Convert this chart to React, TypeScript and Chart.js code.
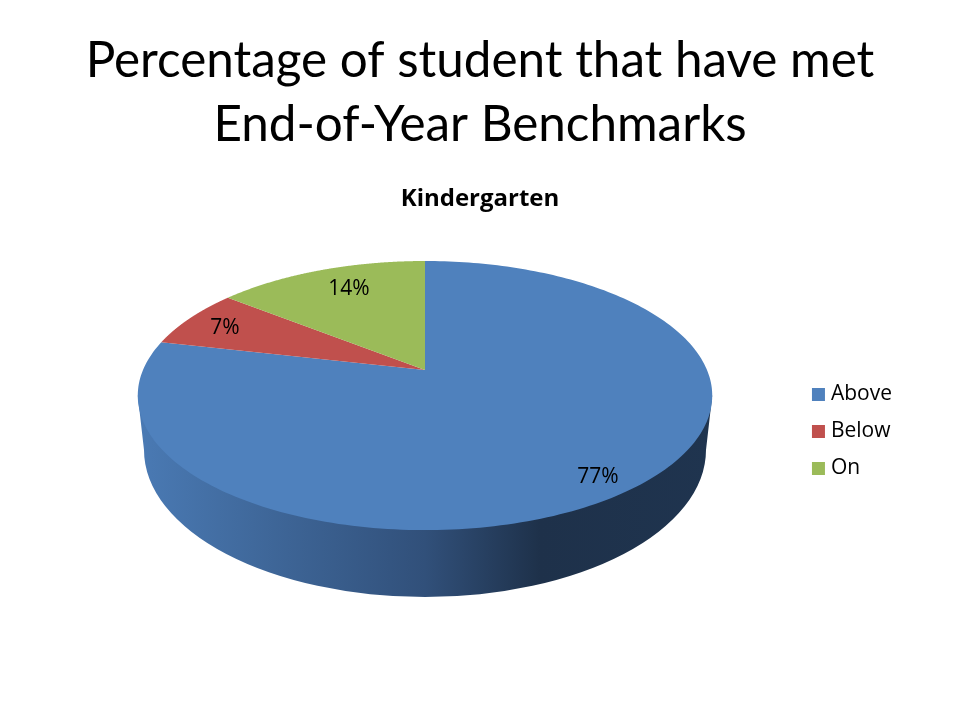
import React, { useEffect, useRef } from "react";
import { Chart, registerables } from "chart.js";

Chart.register(...registerables);

const slideTitle = ["Percentage of student that have met", "End-of-Year Benchmarks"];
const chartTitle = "Kindergarten";
const categories = ["Above", "Below", "On"];
const values = [77, 7, 14];
const valueLabels = ["77%", "7%", "14%"];
const colors = ["#4F81BD", "#C0504D", "#9BBB59"];

// Perspective of the tilted disc (style only)
const VIEW = { cx: 425, cy: 370, kx: 282, ky: 129.7, c: -0.19 };
const WALL = { cy: 450, rx: 281, ry: 147 };
const LABEL_POS = [
  { f: 0.858, dy: 7 },
  { f: 0.842, dy: 2 },
  { f: 0.695, dy: -8 },
];

function project(angle: number, f: number) {
  const u = Math.cos(angle) * f;
  const v = Math.sin(angle) * f;
  const w = 1 + VIEW.c * v;
  return { x: VIEW.cx + (VIEW.kx * u) / w, y: VIEW.cy + (VIEW.ky * v) / w };
}

const pie3d = {
  id: "pie3d",
  beforeDatasetsDraw(chart: any) {
    const { ctx } = chart;
    const arcs = chart.getDatasetMeta(0).data;
    ctx.save();

    // side wall
    const top = VIEW.cy + (VIEW.ky * 0.19) / (1 - 0.19 * 0.19);
    const left = VIEW.cx - VIEW.kx / Math.sqrt(1 - VIEW.c * VIEW.c);
    const right = VIEW.cx + VIEW.kx / Math.sqrt(1 - VIEW.c * VIEW.c);
    const grad = ctx.createLinearGradient(left, 0, right, 0);
    grad.addColorStop(0, "#4A7AB4");
    grad.addColorStop(0.2, "#40699C");
    grad.addColorStop(0.5, "#31507A");
    grad.addColorStop(0.7, "#1E314A");
    grad.addColorStop(1, "#1F344F");
    ctx.beginPath();
    ctx.moveTo(left, top);
    ctx.lineTo(VIEW.cx - WALL.rx, WALL.cy);
    ctx.ellipse(VIEW.cx, WALL.cy, WALL.rx, WALL.ry, 0, Math.PI, 0, true);
    ctx.lineTo(right, top);
    ctx.closePath();
    ctx.fillStyle = grad;
    ctx.fill();

    // top face, one sector per arc element
    arcs.forEach((arc: any, i: number) => {
      const { startAngle, endAngle } = arc.getProps(["startAngle", "endAngle"], true);
      ctx.beginPath();
      ctx.moveTo(VIEW.cx, VIEW.cy);
      const steps = 240;
      for (let s = 0; s <= steps; s++) {
        const p = project(startAngle + ((endAngle - startAngle) * s) / steps, 1);
        ctx.lineTo(p.x, p.y);
      }
      ctx.closePath();
      ctx.fillStyle = colors[i];
      ctx.fill();
    });

    // value labels
    ctx.fillStyle = "#000";
    ctx.font = "21px 'Open Sans'";
    ctx.textAlign = "center";
    ctx.textBaseline = "middle";
    arcs.forEach((arc: any, i: number) => {
      const { startAngle, endAngle } = arc.getProps(["startAngle", "endAngle"], true);
      const p = project((startAngle + endAngle) / 2, LABEL_POS[i].f);
      ctx.fillText(valueLabels[i], p.x, p.y + LABEL_POS[i].dy);
    });
    ctx.restore();
    return false;
  },
};

export default function App() {
  const ref = useRef<HTMLCanvasElement>(null);
  useEffect(() => {
    const chart = new Chart(ref.current as HTMLCanvasElement, {
      type: "pie",
      data: {
        labels: categories,
        datasets: [{ data: values, backgroundColor: colors, borderWidth: 0 }],
      },
      options: {
        responsive: false,
        animation: false,
        layout: { padding: { top: 29, right: 58, bottom: 225, left: 58 } },
        plugins: {
          tooltip: { enabled: false },
          title: {
            display: true,
            text: slideTitle,
            color: "#000",
            font: { family: "Lato", size: 49.4, weight: "normal", lineHeight: 1.3 },
            padding: { top: 0, bottom: 21 },
          },
          subtitle: {
            display: true,
            text: chartTitle,
            color: "#000",
            font: { family: "'Open Sans'", size: 24, weight: "bold" },
            padding: { top: 6, bottom: 10 },
          },
          legend: {
            position: "right",
            align: "end",
            labels: {
              usePointStyle: true,
              pointStyle: "rect",
              boxWidth: 4,
              boxHeight: 13,
              padding: 16,
              color: "#000",
              font: { family: "'Open Sans'", size: 21 },
            },
          },
        },
      },
      plugins: [pie3d],
    } as any);
    return () => chart.destroy();
  }, []);
  return (
    <div style={{ position: "absolute", left: 0, top: 0, width: 960, height: 720, background: "#fff" }}>
      <canvas ref={ref} width={960} height={720} style={{ display: "block" }} />
    </div>
  );
}
